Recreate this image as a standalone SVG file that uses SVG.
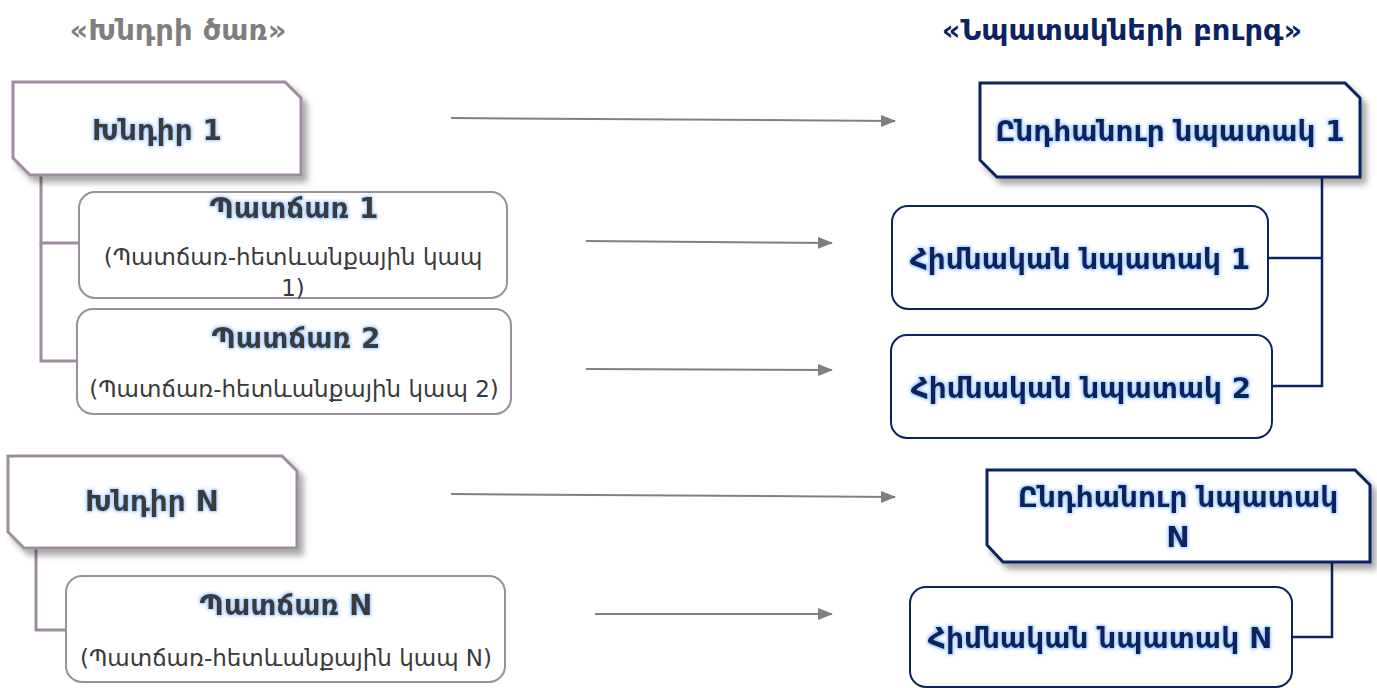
<svg xmlns="http://www.w3.org/2000/svg" width="1377" height="688" viewBox="0 0 1377 688">
<defs>
  <style>
    text { font-family: "DejaVu Sans", "Noto Sans", sans-serif; text-anchor: middle; }
    .title-l { font-size: 29px; fill: #7f7f7f; font-weight: bold; }
    .title-r { font-size: 29px; fill: #0b2461; font-weight: bold; }
    .prob { fill: #ffffff; stroke: #9d8d9e; stroke-width: 3; }
    .cause { fill: #ffffff; stroke: #9d8d9e; stroke-width: 2; }
    .goal { fill: #ffffff; stroke: #0b2461; stroke-width: 3; }
    .sub { fill: #ffffff; stroke: #0b2461; stroke-width: 2; }
    .ptext { font-size: 28px; font-weight: bold; fill: #3a3a3a; }
    .ctitle { font-size: 28px; font-weight: bold; fill: #3a3a3a; }
    .cdesc { font-size: 23px; fill: #3a3a3a; }
    .gtext { font-size: 28px; font-weight: bold; fill: #0b2461; }
    .lconn { fill: none; stroke: #9d8d9e; stroke-width: 3; }
    .rconn { fill: none; stroke: #0b2461; stroke-width: 2.5; }
    .arrow { stroke: #808080; stroke-width: 2; fill: none; marker-end: url(#ah); }
  </style>
  <marker id="ah" markerWidth="15" markerHeight="12" refX="14" refY="6" orient="auto" markerUnits="userSpaceOnUse" viewBox="0 0 15 12">
    <path d="M0,0 L15,6 L0,12 z" fill="#808080"/>
  </marker>
  <filter id="shadow" x="-10%" y="-10%" width="130%" height="140%">
    <feGaussianBlur in="SourceAlpha" stdDeviation="3"/>
    <feOffset dx="5" dy="6" result="b"/>
    <feComponentTransfer><feFuncA type="linear" slope="0.35"/></feComponentTransfer>
    <feMerge><feMergeNode/><feMergeNode in="SourceGraphic"/></feMerge>
  </filter>
  <filter id="glow" x="-10%" y="-30%" width="120%" height="160%">
    <feMorphology in="SourceAlpha" operator="dilate" radius="1.2" result="d"/>
    <feGaussianBlur in="d" stdDeviation="1.5" result="bl"/>
    <feFlood flood-color="#8fc3ff" flood-opacity="0.9"/>
    <feComposite in2="bl" operator="in"/>
    <feMerge><feMergeNode/><feMergeNode in="SourceGraphic"/></feMerge>
  </filter>
</defs>
<rect width="1377" height="688" fill="#ffffff"/>

<text class="title-l" x="178" y="40">«Խնդրի ծառ»</text>
<text class="title-r" x="1122" y="40">«Նպատակների բուրգ»</text>

<g id="connectors">
  <polyline class="lconn" points="41,176 41,243 79,243"/>
  <polyline class="lconn" points="41,243 41,361 77,361"/>
  <polyline class="lconn" points="36,548 36,630 66,630"/>
  <polyline class="rconn" points="1322,177 1322,386 1272,386"/>
  <line class="rconn" x1="1268" y1="258" x2="1322" y2="258"/>
  <polyline class="rconn" points="1332,562 1332,637 1292,637"/>
  <line class="arrow" x1="451" y1="118" x2="895" y2="121"/>
  <line class="arrow" x1="586" y1="241" x2="832" y2="243"/>
  <line class="arrow" x1="586" y1="369" x2="832" y2="370"/>
  <line class="arrow" x1="451" y1="494" x2="895" y2="497"/>
  <line class="arrow" x1="595" y1="614" x2="832" y2="614"/>
</g>

<g id="problem1">
  <path class="prob" filter="url(#shadow)" d="M13,82 H285 L301,98 V175 H30 L13,158 Z"/>
  <text class="ptext" filter="url(#glow)" x="157" y="140">Խնդիր 1</text>
</g>
<g id="cause1">
  <rect class="cause" x="79" y="192" width="428" height="106" rx="16"/>
  <text class="ctitle" filter="url(#glow)" x="294" y="218">Պատճառ 1</text>
  <text class="cdesc" x="293" y="265">(Պատճառ-հետևանքային կապ</text>
  <text class="cdesc" x="293" y="296">1)</text>
</g>
<g id="cause2">
  <rect class="cause" x="77" y="309" width="434" height="105" rx="16"/>
  <text class="ctitle" filter="url(#glow)" x="296" y="348">Պատճառ 2</text>
  <text class="cdesc" x="294" y="397">(Պատճառ-հետևանքային կապ 2)</text>
</g>
<g id="problemN">
  <path class="prob" filter="url(#shadow)" d="M8,456 H282 L297,471 V548 H24 L8,532 Z"/>
  <text class="ptext" filter="url(#glow)" x="152" y="511">Խնդիր N</text>
</g>
<g id="causeN">
  <rect class="cause" x="66" y="576" width="439" height="106" rx="16"/>
  <text class="ctitle" filter="url(#glow)" x="286" y="615">Պատճառ N</text>
  <text class="cdesc" x="286" y="666">(Պատճառ-հետևանքային կապ N)</text>
</g>

<g id="goal1">
  <path class="goal" filter="url(#shadow)" d="M980,83 H1345 L1360,98 V177 H997 L980,160 Z"/>
  <text class="gtext" filter="url(#glow)" x="1170" y="141">Ընդհանուր նպատակ 1</text>
</g>
<g id="main1">
  <rect class="sub" x="892" y="206" width="376" height="103" rx="16"/>
  <text class="gtext" filter="url(#glow)" x="1080" y="269">Հիմնական նպատակ 1</text>
</g>
<g id="main2">
  <rect class="sub" x="891" y="335" width="381" height="103" rx="16"/>
  <text class="gtext" filter="url(#glow)" x="1081" y="398">Հիմնական նպատակ 2</text>
</g>
<g id="goalN">
  <path class="goal" filter="url(#shadow)" d="M987,470 H1355 L1370,485 V562 H1003 L987,545 Z"/>
  <text class="gtext" filter="url(#glow)" x="1178" y="507">Ընդհանուր նպատակ</text>
  <text class="gtext" filter="url(#glow)" x="1178" y="547">N</text>
</g>
<g id="mainN">
  <rect class="sub" x="910" y="587" width="382" height="100" rx="16"/>
  <text class="gtext" filter="url(#glow)" x="1100" y="648">Հիմնական նպատակ N</text>
</g>
</svg>
